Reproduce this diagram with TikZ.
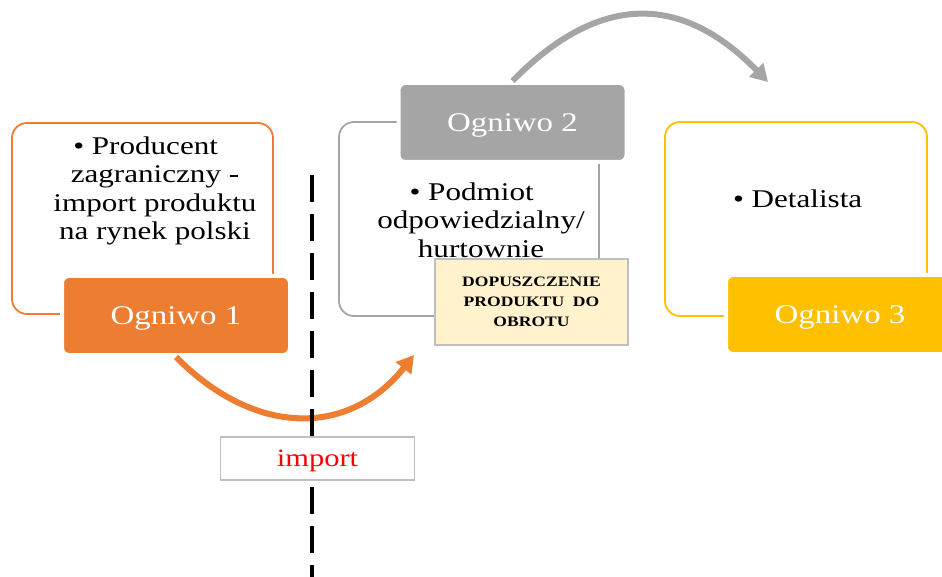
\documentclass[tikz,border=0pt]{standalone}
\usepackage{fontspec}
\setmainfont[FakeStretch=1.22]{Liberation Serif}
\usetikzlibrary{arrows.meta}
\definecolor{orangeA}{HTML}{ED7D31}
\definecolor{grayA}{HTML}{A5A5A5}
\definecolor{goldA}{HTML}{FFC000}
\definecolor{paleA}{HTML}{FFF2CC}
\definecolor{frameA}{HTML}{BFBFBF}

\begin{document}
\begin{tikzpicture}[x=1pt,y=-1pt,
  outline/.style={line width=1.8pt, rounded corners=15pt, fill=white},
  linkbox/.style={draw=white, line width=4pt, rounded corners=7pt,
    minimum width=228pt, minimum height=79pt, text=white,
    font=\fontsize{27}{30}\selectfont, text depth=0pt, inner sep=0pt},
  bullets/.style={align=center, font=\fontsize{25.5}{28.5}\selectfont, inner sep=0pt},
  flow/.style={line width=6pt, -{Triangle[length=17pt,width=19pt]}},
  plainbox/.style={line width=1.3pt, inner sep=0pt},
]
\path[use as bounding box] (0,0) rectangle (942,577);
\clip (0,0) rectangle (942,577);

% chain link 1
\draw[orangeA, outline] (12,123) rectangle (273,314);
\node[linkbox, fill=orangeA] (o1) at (176,315.5) {Ogniwo 1};
\node[bullets] (t1) at (155,191)
  {\llap{\textbullet\ }Producent\\zagraniczny -\\import produktu\\na rynek polski};

% chain link 2
\draw[grayA, outline] (339,122) rectangle (599,316);
\node[linkbox, fill=grayA] (o2) at (512.5,122.5) {Ogniwo 2};
\node[bullets] (t2) at (481,220)
  {\llap{\textbullet\ }Podmiot\\odpowiedzialny/\\hurtownie};
\node[plainbox, draw=frameA, fill=paleA, minimum width=193pt, minimum height=86pt,
  align=center, font=\bfseries\fontsize{14.4}{20}\selectfont] (dop) at (531.5,302)
  {DOPUSZCZENIE\\PRODUKTU\ \ DO\\OBROTU};

% chain link 3
\draw[goldA, outline] (665,122) rectangle (927,316);
\node[linkbox, fill=goldA] (o3) at (840,314.5) {Ogniwo 3};
\node[font=\fontsize{25.5}{28.5}\selectfont, inner sep=0pt, anchor=base] (t3) at (807,208)
  {\llap{\textbullet\ }Detalista};

% flow arrows
\coordinate (a1e) at (414,355);
\draw[flow, orangeA] (o1.south) .. controls (255,437) and (349,437) .. (a1e);
\coordinate (a2e) at (768,82);
\draw[flow, grayA] (o2.north) .. controls (599,-7) and (681,-7) .. (a2e);

% border line and its label
\coordinate (d1) at (312,175);
\coordinate (d2) at (312,577);
\draw[black, line width=4pt, dash pattern=on 27pt off 12pt] (d1) -- (d2);
\node[plainbox, draw=frameA, fill=white, minimum width=194pt, minimum height=43pt,
  text=red, font=\fontsize{25}{28}\selectfont, text depth=0pt] (imp) at (317.5,458.5) {import};
\end{tikzpicture}
\end{document}
